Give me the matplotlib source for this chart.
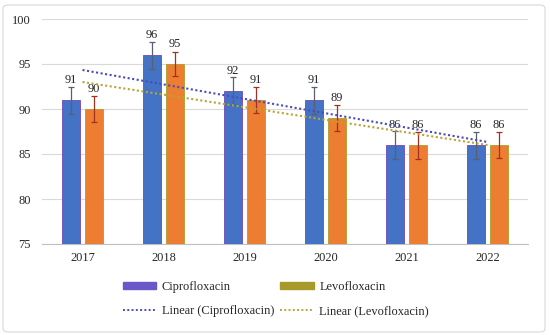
import matplotlib
matplotlib.use("Agg")
import matplotlib.pyplot as plt
import numpy as np
from matplotlib.patches import FancyBboxPatch, Patch
from matplotlib.lines import Line2D

years = ["2017", "2018", "2019", "2020", "2021", "2022"]
cipro = [91, 96, 92, 91, 86, 86]
levo = [90, 95, 91, 89, 86, 86]
cipro_err = [1.5, 1.5, 1.6, 1.5, 1.6, 1.5]
levo_err = [1.4, 1.35, 1.4, 1.4, 1.5, 1.4]

plt.rcParams['font.family'] = ['Liberation Serif', 'DejaVu Serif']
FS = 8.9

fig = plt.figure(figsize=(5.5, 3.35), dpi=100)
ax = fig.add_axes([42/550, 1-244/335, 486/550, (244-19)/335])

x = np.arange(len(years))
w = 0.222
off = 0.142
blue = '#4472C4'
orange = '#ED7D31'
ax.bar(x - off, np.array(cipro) - 75, w, bottom=75, color=blue, edgecolor='#7048B8', linewidth=0.6, zorder=3)
ax.bar(x + off, np.array(levo) - 75, w, bottom=75, color=orange, edgecolor='#A8A030', linewidth=0.6, zorder=3)
ax.errorbar(x - off, cipro, yerr=cipro_err, fmt='none', ecolor='#5A6070', elinewidth=0.9, capsize=2.5, capthick=0.9, zorder=4)
ax.errorbar(x + off, levo, yerr=levo_err, fmt='none', ecolor='#A03020', elinewidth=0.9, capsize=2.5, capthick=0.9, zorder=4)

for xi, v in zip(x - off, cipro):
    ax.text(xi, v + 1.6, str(v), ha='center', va='bottom', fontsize=FS, color='#262626', zorder=5)
for xi, v in zip(x + off, levo):
    ax.text(xi, v + 1.6, str(v), ha='center', va='bottom', fontsize=FS, color='#262626', zorder=5)

# linear trendlines
xc = x + 1
pc = np.polyfit(xc, cipro, 1)
pl = np.polyfit(xc, levo, 1)
ax.plot(x, np.polyval(pc, xc), linestyle=(0, (1, 1.2)), color='#4B4BC0', linewidth=1.5, zorder=6)
ax.plot(x, np.polyval(pl, xc), linestyle=(0, (1, 1.2)), color='#B8A632', linewidth=1.5, zorder=6)

ax.set_xlim(-0.5, 5.5)
ax.set_ylim(75, 100)
ax.set_yticks([75, 80, 85, 90, 95, 100])
ax.set_xticks(x)
ax.set_xticklabels(years)
ax.tick_params(axis='both', length=0, labelsize=FS, colors='#262626')
ax.tick_params(axis='y', pad=8)
ax.tick_params(axis='x', pad=6)
ax.yaxis.grid(True, color='#D9D9D9', linewidth=0.8, zorder=0)
ax.set_axisbelow(True)
for s in ['top', 'right', 'left']:
    ax.spines[s].set_visible(False)
ax.spines['bottom'].set_color('#BFBFBF')
ax.spines['bottom'].set_linewidth(0.8)

handles = [
    Patch(facecolor='#6A58C8', edgecolor='#6A58C8'),
    Patch(facecolor='#A89A2A', edgecolor='#A89A2A'),
    Line2D([0], [0], color='#4B4BC0', linestyle=(0, (1, 1.2)), linewidth=1.4),
    Line2D([0], [0], color='#B8A632', linestyle=(0, (1, 1.2)), linewidth=1.4),
]
labels = ['Ciprofloxacin', 'Levofloxacin', 'Linear (Ciprofloxacin)', 'Linear (Levofloxacin)']
order = [0, 2, 1, 3]
leg = fig.legend([handles[i] for i in order], [labels[i] for i in order], ncol=2,
                 loc='center left', bbox_to_anchor=(123/550, 1-299/335), frameon=False,
                 fontsize=FS, handlelength=2.7, handleheight=0.55, handletextpad=0.45,
                 columnspacing=0.5, labelspacing=1.0, borderpad=0, borderaxespad=0)
for t in leg.get_texts():
    t.set_color('#262626')

border = FancyBboxPatch((3/550, 3/335), 542/550, 327/335, boxstyle='round,pad=0,rounding_size=0.01',
                        transform=fig.transFigure, facecolor='none', edgecolor='#D9D9D9', linewidth=0.8)
fig.patches.append(border)

fig.savefig('out.png', dpi=100)
